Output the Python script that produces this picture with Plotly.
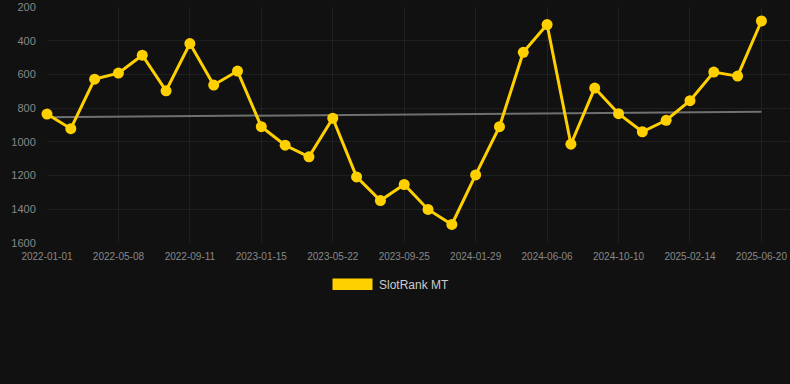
import plotly.graph_objects as go

dates = [
    "2022-01-01", "2022-02-12", "2022-03-26", "2022-05-08", "2022-06-19", "2022-07-31",
    "2022-09-11", "2022-10-23", "2022-12-04", "2023-01-15", "2023-02-26", "2023-04-09",
    "2023-05-22", "2023-07-03", "2023-08-14", "2023-09-25", "2023-11-06", "2023-12-18",
    "2024-01-29", "2024-03-11", "2024-04-23", "2024-06-06", "2024-07-18", "2024-08-29",
    "2024-10-10", "2024-11-21", "2025-01-02", "2025-02-14", "2025-03-28", "2025-05-09",
    "2025-06-20",
]
rank = [
    835, 922, 628, 592, 486, 697, 417, 663, 580, 910, 1020, 1089,
    860, 1208, 1348, 1253, 1401, 1490, 1196, 910, 469, 304, 1014, 681,
    833, 940, 872, 756, 586, 610, 283,
]
trend_x = [dates[0], dates[-1]]
trend_y = [854, 821]
tick_labels = dates[::3]
series_name = "SlotRank MT"
y_ticks = [200, 400, 600, 800, 1000, 1200, 1400, 1600]

BG = "#111111"
GOLD = "#FFD000"
GRID = "rgba(255,255,255,0.06)"
FONT = "Liberation Sans, Arial, sans-serif"

fig = go.Figure()
fig.add_trace(go.Scatter(
    x=trend_x, y=trend_y, mode="lines",
    line=dict(color="#707070", width=2),
    hoverinfo="skip", showlegend=False,
))
fig.add_trace(go.Scatter(
    x=dates, y=rank, mode="lines+markers", name=series_name,
    line=dict(color=GOLD, width=3),
    marker=dict(color=GOLD, size=11),
    cliponaxis=False, showlegend=False,
))

fig.update_layout(
    width=790, height=384,
    margin=dict(l=47, r=0, t=7, b=141),
    paper_bgcolor=BG, plot_bgcolor=BG,
    font=dict(family=FONT, color="#888888"),
    showlegend=False,
    xaxis=dict(
        type="category", categoryorder="array", categoryarray=dates,
        range=[0, 31.2],
        tickvals=tick_labels, ticktext=tick_labels,
        tickfont=dict(size=10, color="#888888"),
        showgrid=True, gridcolor=GRID, gridwidth=1,
        zeroline=False, showline=False,
        ticks="outside", ticklen=4, tickcolor=BG,
    ),
    yaxis=dict(
        range=[1600, 200],
        tickvals=y_ticks,
        tickfont=dict(size=11, color="#888888"),
        showgrid=True, gridcolor=GRID, gridwidth=1,
        zeroline=False, showline=False,
        ticks="outside", ticklen=8, tickcolor=BG,
    ),
    shapes=[dict(
        type="rect", xref="paper", yref="paper",
        x0=(332.5 - 47) / 743, x1=(372.5 - 47) / 743,
        y0=(384 - 141 - 290) / 236, y1=(384 - 141 - 278.5) / 236,
        fillcolor=GOLD, line=dict(width=0),
    )],
    annotations=[dict(
        text=series_name, xref="paper", yref="paper",
        x=(376.5 - 47) / 743, y=(384 - 141 - 284.5) / 236,
        xanchor="left", yanchor="middle", showarrow=False,
        font=dict(size=12, color="#cccccc", family=FONT),
    )],
)

fig.write_html("out.html")
